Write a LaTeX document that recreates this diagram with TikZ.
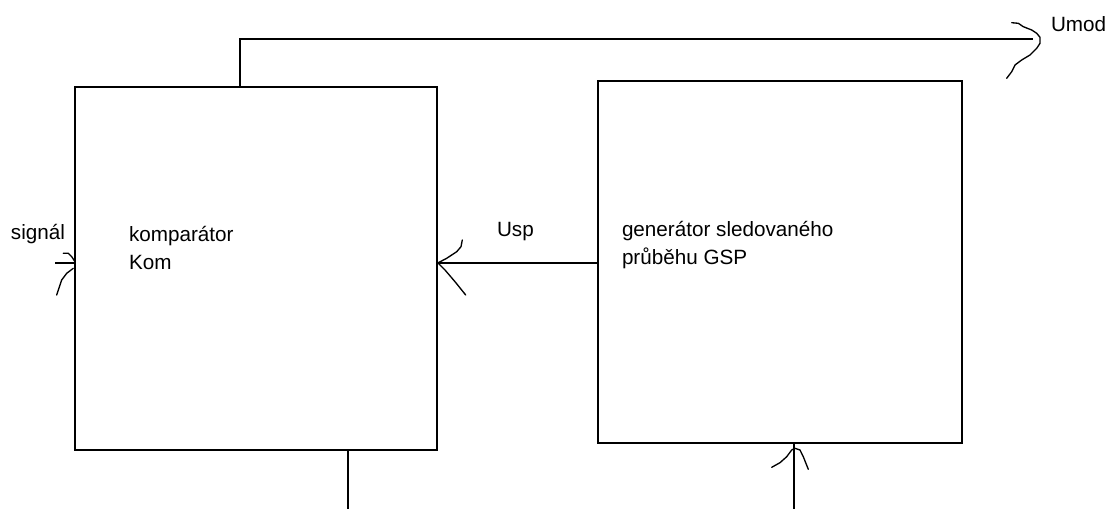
\documentclass[tikz,border=0pt]{standalone}
\usepackage{fontspec}
\setmainfont{Liberation Sans}
\begin{document}
\begin{tikzpicture}[x=0.75pt,y=-0.75pt,
  box/.style={draw, line width=1.3pt, inner sep=0pt, outer sep=0pt},
  conn/.style={line width=1.3pt},
  hand/.style={line width=1pt, line join=round, line cap=round},
  lbl/.style={inner sep=0pt, outer sep=0pt, align=left, font=\fontsize{15.5}{21}\selectfont}]
\useasboundingbox[fill=white] (0,0) rectangle (1107,509);

% blocks
\node[box, minimum width=271.5pt, minimum height=272.25pt] (kom) at (256,268.5) {};
\node[box, minimum width=273pt, minimum height=271.5pt] (gsp) at (780,262) {};

% labels (base anchor = baseline of last line)
\node[lbl, anchor=base west] (komtxt) at (129,270) {komparátor\\Kom};
\node[lbl, anchor=base west] (gsptxt) at (622,265) {generátor sledovaného\\průběhu GSP};
\node[lbl, anchor=base west] (usptxt) at (497,237) {Usp};
\node[lbl, anchor=base west] (sigtxt) at (11,240) {signál};
\node[lbl, anchor=base west] (umodtxt) at (1051,32) {Umod};

% connector endpoints
\coordinate (umodEnd) at (1033,39);
\coordinate (sigStart) at (55,263);
\coordinate (komBot) at (348,509);
\coordinate (gspBot) at (794,509);

% connectors
\draw[conn] (kom.north west) ++(165,0) |- (umodEnd);
\draw[conn] (gsp.west |- 0,263) -- (kom.east |- 0,263);
\draw[conn] (sigStart) -- (kom.west |- sigStart);
\draw[conn] (kom.south -| komBot) -- (komBot);
\draw[conn] (gspBot) -- (gsp.south -| gspBot);

% hand-drawn arrowheads
\draw[hand] (1011.7,22.7) -- (1018.3,23.3) -- (1023.3,26.7) -- (1031.7,30) -- (1036.7,33.3) -- (1040,37.3) -- (1040,43.3)
  -- (1036.7,48.3) -- (1030,55) -- (1021.7,60) -- (1015,65) -- (1011.7,71.7) -- (1006.7,78.3);
\draw[hand] (462.3,240) -- (461,246.7) -- (456.7,251.7) -- (451.7,255) -- (446.7,258.3) -- (438.3,262.7);
\draw[hand] (438.3,263.3) -- (445,270) -- (455,281.7) -- (465.7,295);
\draw[hand] (63.3,253.3) -- (68.3,253.3) -- (71.7,256.7) -- (75,261.7);
\draw[hand] (73.3,268.3) -- (66.7,273.3) -- (61.7,280) -- (56.7,295);
\draw[hand] (771.7,467.3) -- (780,462.7) -- (786.7,456.7) -- (791.7,450) -- (795,448.3)
  -- (800,450) -- (803.3,456.7) -- (808.3,469.3);
\end{tikzpicture}
\end{document}
